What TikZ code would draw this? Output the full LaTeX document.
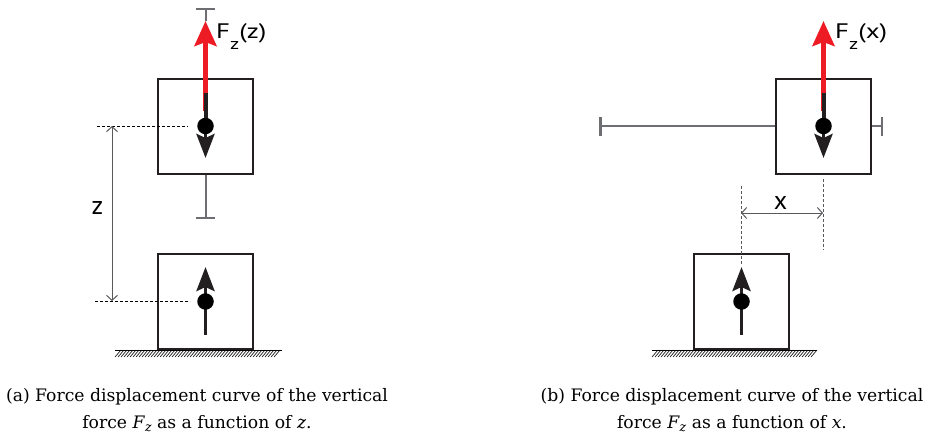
\documentclass[tikz,border=0pt]{standalone}
\usepackage{fontspec}
\usepackage{graphicx}
\newfontfamily\labelfont{PT Sans}
\newfontfamily\capfont{DejaVu Serif}
\usetikzlibrary{arrows.meta}
\definecolor{fred}{HTML}{ED1C24}
\definecolor{tgray}{HTML}{6D6E71}
\definecolor{ink}{HTML}{231F20}
\definecolor{dimgray}{HTML}{58595B}
\newcommand{\fzcap}{\textit{F}\raisebox{-3.5pt}{\fontsize{12.5}{12.5}\selectfont\textit{z}}}
\newcommand{\fzlabel}[1]{\scalebox{1.28}[1]{F\raisebox{-12pt}{\fontsize{16}{16}\selectfont z}(#1)}}
\begin{document}
\begin{tikzpicture}[x=1pt,y=-1pt,
  box/.style={draw=ink,line width=2pt,minimum width=95pt,minimum height=95pt,inner sep=0pt},
  mass/.style={circle,fill=black,minimum size=16.5pt,inner sep=0pt},
  force/.style={draw=fred,line width=5pt,-{Stealth[length=25pt,width=22pt,inset=4pt]}},
  stub/.style={draw=ink,line width=4pt},
  dirarrow/.style={draw=ink,line width=3.8pt,-{Stealth[length=24pt,width=18pt,inset=4pt]}},
  tline/.style={draw=tgray,line width=2pt,-{Bar[width=19pt,line width=2.5pt]}},
  guide/.style={draw=black,line width=0.8pt,dash pattern=on 3pt off 2pt},
  vguide/.style={draw=dimgray,line width=1pt,dash pattern=on 3pt off 2pt},
  dimline/.style={draw=dimgray,line width=1pt,{Straight Barb[length=5pt,width=11pt]}-{Straight Barb[length=5pt,width=11pt]}},
  lbl/.style={font=\labelfont\fontsize{21}{21}\selectfont,inner sep=0pt},
  dimlbl/.style={font=\labelfont\fontsize{26}{26}\selectfont,inner sep=0pt},
  captext/.style={font=\capfont\fontsize{17.2}{27}\selectfont,align=center,inner sep=0pt},
  ground/.style={draw=black,line width=0.7pt}
]
\useasboundingbox (0,0) rectangle (928,436);

% ================= panel (a) =================
\node[box] (ua) at (205.5,126.5) {};
\node[box] (la) at (205.5,301.5) {};
\coordinate (taTop) at (205.5,8);
\coordinate (faTip) at (205.5,21);
\coordinate (faBase) at (205.5,111);
\coordinate (saTop) at (205.5,93);
\coordinate (daTip) at (205.5,158);
\coordinate (tbBot) at (205.5,219);
\coordinate (laTail) at (205.5,335);
\coordinate (laTip) at (205.5,267);
\coordinate (gua) at (97,126);
\coordinate (gub) at (188,126);
\coordinate (gla) at (95,301);
\coordinate (glb) at (190,301);
\coordinate (dza) at (112,126);
\coordinate (dzb) at (112,301);

\draw[tline] (faTip) -- (taTop);
\draw[tline] (ua.south) -- (tbBot);
\draw[force] (faBase) -- (faTip);
\draw[stub] (saTop) -- (205.5,126);
\draw[dirarrow] (205.5,126) -- (daTip);
\node[mass] (ma) at (205.5,126) {};
\draw[dirarrow] (laTail) -- (laTip);
\node[mass] (mb) at (205.5,301.5) {};
\draw[guide] (gua) -- (gub);
\draw[guide] (gla) -- (glb);
\draw[dimline] (dza) -- (dzb);
\node[dimlbl] (lz) at (97.5,208) {z};
\node[lbl,anchor=base west] (fza) at (216,38) {\fzlabel{z}};
\draw[ground] (115,350) -- (282,350);
\foreach \x in {121,124,...,282} \draw[ground,line width=0.6pt] (\x,350) -- (\x-6,357);

% ================= panel (b) =================
\node[box] (ub) at (823.5,126.5) {};
\node[box] (lb) at (741.5,301.5) {};
\coordinate (fbTip) at (823.5,21);
\coordinate (fbBase) at (823.5,111);
\coordinate (sbTop) at (823.5,93);
\coordinate (dbTip) at (823.5,158);
\coordinate (hl) at (599,126);
\coordinate (hr) at (883,126);
\coordinate (lbTail) at (741.5,335);
\coordinate (lbTip) at (741.5,267);
\coordinate (v1a) at (741,186);
\coordinate (v1b) at (741,265);
\coordinate (v2a) at (823,179);
\coordinate (v2b) at (823,250);
\coordinate (dxa) at (741,213);
\coordinate (dxb) at (823,213);

\draw[tline] (hl -| ub.west) -- (hl);
\draw[tline] (hr -| ub.east) -- (hr);
\draw[force] (fbBase) -- (fbTip);
\draw[stub] (sbTop) -- (823.5,126);
\draw[dirarrow] (823.5,126) -- (dbTip);
\node[mass] (mc) at (823.5,126) {};
\draw[vguide] (v1a) -- (v1b);
\draw[vguide] (v2a) -- (v2b);
\draw[dimline] (dxa) -- (dxb);
\node[dimlbl] (lx) at (780.5,203) {x};
\draw[dirarrow] (lbTail) -- (lbTip);
\node[mass] (md) at (741.5,301.5) {};
\node[lbl,anchor=base west] (fzb) at (835,38) {\fzlabel{x}};
\draw[ground] (652,350) -- (817,350);
\foreach \x in {658,661,...,817} \draw[ground,line width=0.6pt] (\x,350) -- (\x-6,357);

% ================= captions =================
\node[captext] (ca) at (197,410) {(a) Force displacement curve of the vertical\\force \fzcap{} as a function of \textit{z}.};
\node[captext] (cb) at (732,410) {(b) Force displacement curve of the vertical\\force \fzcap{} as a function of \textit{x}.};
\end{tikzpicture}
\end{document}
